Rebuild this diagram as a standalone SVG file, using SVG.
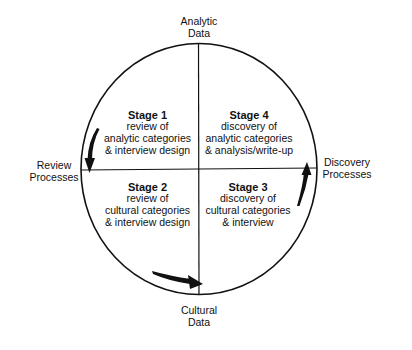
<svg xmlns="http://www.w3.org/2000/svg" width="412" height="350" viewBox="0 0 412 350">
<style>
text{font-family:"Liberation Sans",Arial,sans-serif;font-size:10.5px;fill:#111;text-anchor:middle}
.b{font-weight:bold;font-size:11px}
.ln{stroke:#111;fill:none}
.ar{fill:#111;stroke:none}
</style>
<rect width="412" height="350" fill="#fff"/>
<g id="circle">
<ellipse class="ln" cx="199" cy="169" rx="118" ry="125.5" stroke-width="1.6"/>
<line class="ln" x1="81" y1="170" x2="317" y2="168" stroke-width="1.2"/>
<line class="ln" x1="198.5" y1="43.5" x2="199" y2="294" stroke-width="1.2"/>
</g>
<g id="stage1">
<text class="b" x="147.5" y="119">Stage 1</text>
<text x="147.5" y="130">review of</text>
<text x="147.5" y="142">analytic categories</text>
<text x="147.5" y="154">&amp; interview design</text>
</g>
<g id="stage4">
<text class="b" x="249" y="119">Stage 4</text>
<text x="249" y="130">discovery of</text>
<text x="249" y="142">analytic categories</text>
<text x="249" y="154">&amp; analysis/write-up</text>
</g>
<g id="stage2">
<text class="b" x="147.5" y="191">Stage 2</text>
<text x="147.5" y="202">review of</text>
<text x="147.5" y="214">cultural categories</text>
<text x="147.5" y="226">&amp; interview design</text>
</g>
<g id="stage3">
<text class="b" x="248" y="191">Stage 3</text>
<text x="248" y="202">discovery of</text>
<text x="248" y="214">cultural categories</text>
<text x="248" y="226">&amp; interview</text>
</g>
<g id="analytic-data">
<text x="199" y="25">Analytic</text>
<text x="199" y="37">Data</text>
</g>
<g id="cultural-data">
<text x="199" y="314">Cultural</text>
<text x="199" y="326">Data</text>
</g>
<g id="review-processes">
<text x="54" y="169">Review</text>
<text x="54" y="181">Processes</text>
</g>
<g id="discovery-processes">
<text x="347" y="166">Discovery</text>
<text x="347" y="178">Processes</text>
</g>
<g id="connectors">
<path class="ar" d="M97,128 Q88,142 87.5,160 L92,160 Q92,143 99.5,129 Z"/>
<polygon class="ar" points="84.5,158 95,158 89.5,173"/>
<path class="ar" d="M297,206 Q303,185 304,172 L309,172 Q306,189 299.5,206 Z"/>
<polygon class="ar" points="301.5,175 311.5,175 307,162"/>
<path class="ar" d="M152,271 Q170,276 191,279 L190,284 Q169,281 153,274 Z"/>
<polygon class="ar" points="188,275 190,289 203,284"/>
</g>
</svg>
